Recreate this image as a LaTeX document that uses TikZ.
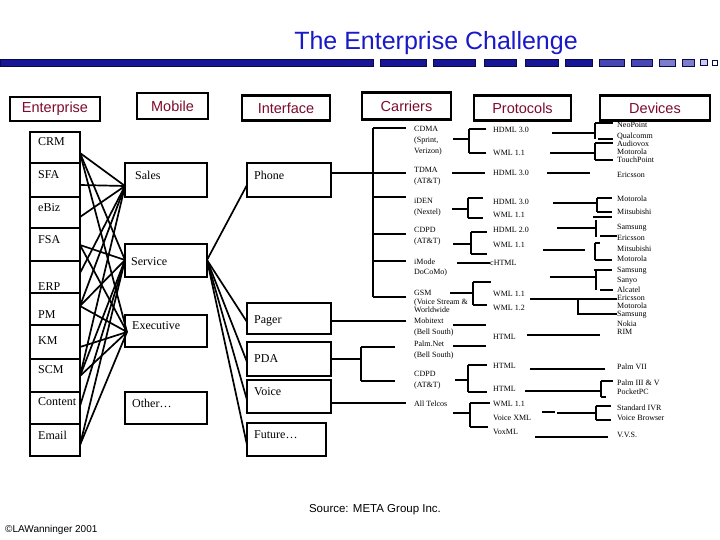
\documentclass[tikz,border=0pt]{standalone}
\usepackage{fontspec}
\setmainfont{Liberation Serif}
\setsansfont{Liberation Sans}
\definecolor{titleblue}{RGB}{25,25,200}
\definecolor{bardark}{RGB}{22,22,150}
\definecolor{barmid}{RGB}{70,70,180}
\definecolor{barlight}{RGB}{125,125,205}
\definecolor{barline}{RGB}{10,10,70}
\definecolor{hdrred}{RGB}{125,10,45}
\tikzset{
  hdr/.style={draw, line width=2.5pt, text=hdrred, inner sep=0pt,
    font=\sffamily\fontsize{14.5}{16}\selectfont},
  bx/.style={draw, line width=1.6pt},
  lbl/.style={anchor=west, inner sep=0pt, font=\fontsize{12}{13}\selectfont},
  tiny/.style={anchor=west, inner sep=0pt, font=\fontsize{8}{9}\selectfont},
  ln/.style={line width=1.7pt},
  seg/.style={draw=barline, line width=0.6pt}
}
\begin{document}
\begin{tikzpicture}[x=1pt,y=-1pt]
\useasboundingbox (0,0) rectangle (720,540);
% title
\node[font=\sffamily\fontsize{25}{28}\selectfont, text=titleblue] (title) at (436,43) {The Enterprise Challenge};
% bar
\fill[bardark, seg] (0,59) rectangle (373,66);
\foreach \a/\b/\c in {380/426/bardark,433/475/bardark,484/516/bardark,525/558/bardark,565/592/bardark,599/624/barmid,631/652/barmid,659/675/barlight,682/694/barlight}
  \filldraw[fill=\c, seg] (\a,59) rectangle (\b,66);
\filldraw[fill=barlight!40, seg] (700,59.5) rectangle (707,65.5);
\filldraw[fill=white, seg] (712,60) rectangle (717,65);
% headers
\node[hdr, minimum width=90, minimum height=24] (hEnt) at (55,109) {Enterprise};
\node[hdr, minimum width=71, minimum height=26] (hMob) at (172.5,106) {Mobile};
\node[hdr, minimum width=88, minimum height=25] (hInt) at (286,108) {Interface};
\node[hdr, minimum width=89, minimum height=27] (hCar) at (406.5,106) {Carriers};
\node[hdr, minimum width=97, minimum height=25] (hPro) at (522.5,108) {Protocols};
\node[hdr, minimum width=110, minimum height=25] (hDev) at (655,108) {Devices};
% enterprise column
\draw[bx] (30,132) rectangle (80,456);
\foreach \y in {163,197,228,261,293,359,392,424} \draw[bx] (30,\y) -- (80,\y);
\draw[line width=2.6pt] (30,325) -- (80,325);
\node[lbl] (tCRM) at (38,142) {CRM};
\node[lbl] (tSFA) at (38,175) {SFA};
\node[lbl] (tEBiz) at (38,208) {eBiz};
\node[lbl] (tFSA) at (38,240) {FSA};
\node[lbl] (tERP) at (38,287) {ERP};
\node[lbl] (tPM) at (38,315) {PM};
\node[lbl] (tKM) at (38,341) {KM};
\node[lbl] (tSCM) at (38,370) {SCM};
\node[lbl] (tCon) at (38,402) {Content};
\node[lbl] (tEm) at (38,435) {Email};
% enterprise anchors
\coordinate (eCRM) at (80,153);
\coordinate (eSFA) at (80,185);
\coordinate (eEBiz) at (80,217);
\coordinate (eFSA) at (80,245);
\coordinate (eERP) at (80,273);
\coordinate (ePM) at (80,306);
\coordinate (eKM) at (80,347);
\coordinate (eSCM) at (80,376);
\coordinate (eCon) at (80,406);
\coordinate (eEm) at (80,445);
% mobile boxes
\draw[bx] (125,163) rectangle (207,197);
\draw[bx] (125,244) rectangle (207,277);
\draw[bx] (125,315) rectangle (207,347);
\draw[bx] (125,392) rectangle (207,424);
\node[lbl] (tSales) at (135,175) {Sales};
\node[lbl] (tServ) at (131,262) {Service};
\node[lbl] (tExec) at (132,326) {Executive};
\node[lbl] (tOther) at (132,403) {Other\ldots};
\coordinate (mS) at (125,186);
\coordinate (mV) at (125,260);
\coordinate (mX) at (127,332);
\coordinate (mVr) at (207,260);
% enterprise -> mobile
\foreach \e in {eCRM,eSFA,eEBiz,eERP,ePM,eSCM} \draw[ln] (\e) -- (mS);
\foreach \e in {eCRM,eFSA,ePM,eSCM,eCon,eEm} \draw[ln] (\e) -- (mV);
\foreach \e in {eCRM,eFSA,ePM,eKM,eSCM,eEm} \draw[ln] (\e) -- (mX);
% interface boxes
\draw[bx] (247,163) rectangle (331,197);
\draw[bx] (247,303) rectangle (331,334);
\draw[bx] (247,342) rectangle (331,376);
\draw[bx] (247,380) rectangle (331,413);
\draw[bx] (247,423) rectangle (326,456);
\node[lbl] (tPhone) at (254,175) {Phone};
\node[lbl] (tPager) at (254,321) {Pager};
\node[lbl] (tPDA) at (254,359) {PDA};
\node[lbl] (tVoice) at (254,392) {Voice};
\node[lbl] (tFut) at (254,435) {Future\ldots};
\coordinate (iPh) at (247,185);
\coordinate (iPg) at (247,322);
\coordinate (iPD) at (247,362);
\coordinate (iVo) at (247,400);
\coordinate (iFu) at (247,445);
\foreach \i in {iPh,iPg,iPD,iVo,iFu} \draw[ln] (mVr) -- (\i);
% carriers bracket
\draw[ln] (373,128) -- (373,297);
\foreach \y in {128,197,234,261,297} \draw[ln] (373,\y) -- (406,\y);
\draw[ln] (331,173) -- (406,173);
\draw[ln] (331,321) -- (406,321);
\draw[ln] (331,359) -- (361,359);
\draw[ln] (361,347) -- (361,381);
\draw[ln] (361,347) -- (395,347);
\draw[ln] (361,381) -- (395,381);
\draw[ln] (331,403) -- (406,403);
% carrier texts
\node[tiny] at (414,129) {CDMA};
\node[tiny] at (414,141) {(Sprint,};
\node[tiny] at (414,152) {Verizon)};
\node[tiny] at (414,170) {TDMA};
\node[tiny] at (414,182) {(AT\&T)};
\node[tiny] at (414,201) {iDEN};
\node[tiny] at (414,213) {(Nextel)};
\node[tiny] at (414,230) {CDPD};
\node[tiny] at (414,242) {(AT\&T)};
\node[tiny] at (414,262) {iMode};
\node[tiny] at (414,273) {DoCoMo)};
\node[tiny] at (414,293) {GSM};
\node[tiny] at (414,303) {(Voice Stream \&};
\node[tiny] at (414,310) {Worldwide};
\node[tiny] at (414,321) {Mobitext};
\node[tiny] at (414,333) {(Bell South)};
\node[tiny] at (414,344) {Palm.Net};
\node[tiny] at (414,356) {(Bell South)};
\node[tiny] at (414,374) {CDPD};
\node[tiny] at (414,386) {(AT\&T)};
\node[tiny] at (414,404) {All Telcos};
% protocol texts
\node[tiny] at (493,130) {HDML 3.0};
\node[tiny] at (493,153) {WML 1.1};
\node[tiny] at (493,173) {HDML 3.0};
\node[tiny] at (493,202) {HDML 3.0};
\node[tiny] at (493,215) {WML 1.1};
\node[tiny] at (493,230) {HDML 2.0};
\node[tiny] at (493,245) {WML 1.1};
\node[tiny] at (490,263) {cHTML};
\node[tiny] at (493,294) {WML 1.1};
\node[tiny] at (493,308) {WML 1.2};
\node[tiny] at (493,337) {HTML};
\node[tiny] at (493,366) {HTML};
\node[tiny] at (493,389) {HTML};
\node[tiny] at (493,404) {WML 1.1};
\node[tiny] at (493,418) {Voice XML};
\node[tiny] at (493,432) {VoxML};
% carrier -> protocol lines
\draw[ln] (453,139) -- (469,139);
\draw[ln] (469,129) -- (469,153);
\draw[ln] (469,129) -- (486,129);
\draw[ln] (469,153) -- (486,153);
\draw[ln] (452,173) -- (485,173);
\draw[ln] (452,209) -- (468,209);
\draw[ln] (468,198) -- (468,218);
\draw[ln] (468,198) -- (483,198);
\draw[ln] (468,218) -- (483,218);
\draw[ln] (453,244) -- (471,244);
\draw[ln] (471,232) -- (471,254);
\draw[ln] (471,232) -- (487,232);
\draw[ln] (471,254) -- (487,254);
\draw[ln] (457,263) -- (490,263);
\draw[ln] (450,293) -- (473,293);
\draw[ln] (473,282) -- (473,305);
\draw[ln] (473,282) -- (491,282);
\draw[ln] (473,305) -- (487,305);
\draw[ln] (453,325) -- (486,325);
\draw[ln] (453,346) -- (486,346);
\draw[ln] (455,380) -- (468,380);
\draw[ln] (468,365) -- (468,392);
\draw[ln] (468,365) -- (487,365);
\draw[ln] (468,392) -- (487,392);
\draw[ln] (453,413) -- (470,413);
\draw[ln] (470,403) -- (470,427);
\draw[ln] (470,403) -- (490,403);
\draw[ln] (470,427) -- (488,427);
% protocol -> device lines
\draw[ln] (552,133) -- (595,133);
\draw[ln] (595,123) -- (595,139);
\draw[ln] (595,123) -- (613,123);
\draw[ln] (598,139) -- (613,139);
\draw[ln] (550,153) -- (595,153);
\draw[ln] (595,143) -- (595,160);
\draw[ln] (595,143) -- (613,143);
\draw[ln] (595,160) -- (613,160);
\draw[ln] (547,173) -- (590,173);
\draw[ln] (553,203) -- (597,203);
\draw[ln] (597,198) -- (597,212);
\draw[ln] (597,198) -- (612,198);
\draw[ln] (597,212) -- (612,212);
\draw[ln] (593,217) -- (612,217);
\draw[ln] (557,228) -- (597,228);
\draw[ln] (596,220) -- (596,237);
\draw[ln] (600,236) -- (617,236);
\draw[ln] (543,250) -- (585,250);
\draw[ln] (595,243) -- (595,260);
\draw[ln] (595,243) -- (600,243);
\draw[ln] (595,260) -- (612,260);
\draw[ln] (550,277) -- (596,277);
\draw[ln] (596,270) -- (596,290);
\draw[ln] (594,270) -- (612,270);
\draw[ln] (600,290) -- (613,290);
\draw[ln] (530,299) -- (617,299);
\draw[ln] (578,299) -- (578,314) -- (617,314);
\draw[ln] (527,335) -- (600,335);
\draw[ln] (530,369) -- (605,369);
\draw[ln] (525,391) -- (601,391);
\draw[ln] (601,381) -- (601,397);
\draw[ln] (601,381) -- (613,381);
\draw[ln] (601,397) -- (606,397);
\draw[ln] (542,412) -- (555,412);
\draw[ln] (557,413) -- (596,413);
\draw[ln] (596,406) -- (596,420);
\draw[ln] (596,406) -- (611,406);
\draw[ln] (596,420) -- (611,420);
\draw[ln] (535,437) -- (608,437);
% device texts
\node[tiny] at (617,125) {NeoPoint};
\node[tiny] at (617,136) {Qualcomm};
\node[tiny] at (617,144) {Audiovox};
\node[tiny] at (617,152) {Motorola};
\node[tiny] at (617,160) {TouchPoint};
\node[tiny] at (617,175) {Ericsson};
\node[tiny] at (617,199) {Motorola};
\node[tiny] at (617,212) {Mitsubishi};
\node[tiny] at (617,228) {Samsung};
\node[tiny] at (617,238) {Ericsson};
\node[tiny] at (617,249) {Mitsubishi};
\node[tiny] at (617,259) {Motorola};
\node[tiny] at (617,271) {Samsung};
\node[tiny] at (617,281) {Sanyo};
\node[tiny] at (617,290) {Alcatel};
\node[tiny] at (617,298) {Ericsson};
\node[tiny] at (617,306) {Motorola};
\node[tiny] at (617,315) {Samsung};
\node[tiny] at (617,324) {Nokia};
\node[tiny] at (617,332) {RIM};
\node[tiny] at (617,367) {Palm VII};
\node[tiny] at (617,383) {Palm III \& V};
\node[tiny] at (617,392) {PocketPC};
\node[tiny] at (617,408) {Standard IVR};
\node[tiny] at (617,418) {Voice Browser};
\node[tiny] at (617,435) {V.V.S.};
% footer
\node[font=\sffamily\fontsize{11.5}{13}\selectfont] (src) at (375,510) {Source: META Group Inc.};
\node[anchor=west, inner sep=0pt, font=\sffamily\fontsize{10}{12}\selectfont] (copy) at (5,530) {©LAWanninger 2001};
\end{tikzpicture}
\end{document}
